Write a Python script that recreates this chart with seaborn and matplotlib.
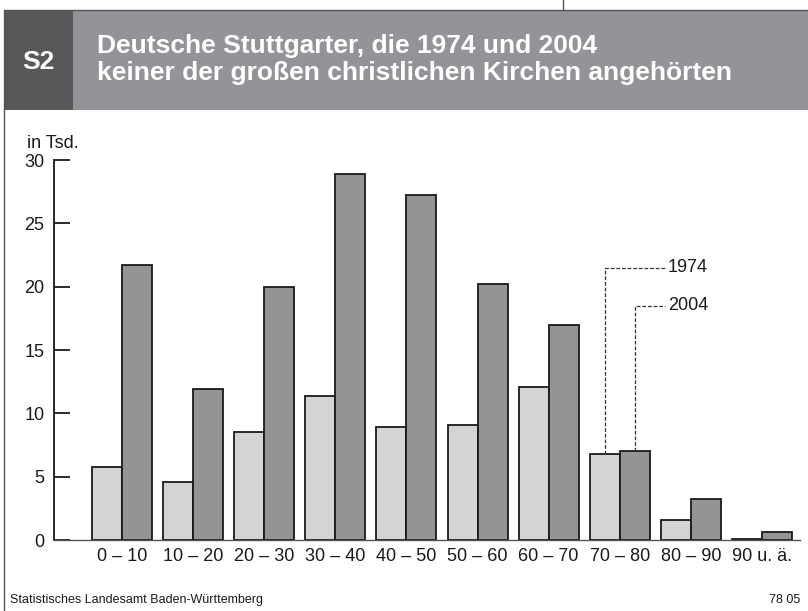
import pandas as pd
import matplotlib.pyplot as plt
import seaborn as sns
from matplotlib.patches import Rectangle
from matplotlib.lines import Line2D

# Altersgruppen und Werte in Tsd.
alter = ['0 – 10', '10 – 20', '20 – 30', '30 – 40', '40 – 50',
         '50 – 60', '60 – 70', '70 – 80', '80 – 90', '90 u. ä.']
werte_1974 = [5.8, 4.6, 8.5, 11.4, 8.9, 9.1, 12.1, 6.8, 1.6, 0.1]
werte_2004 = [21.7, 11.9, 20.0, 28.9, 27.2, 20.2, 17.0, 7.0, 3.2, 0.6]
jahre = ['1974', '2004']
yticks = [0, 5, 10, 15, 20, 25, 30]

light = '#d3d4d6'
dark = '#939498'
header_dark = '#58585a'

df = pd.DataFrame({
    'Alter': alter * 2,
    'Anzahl': werte_1974 + werte_2004,
    'Jahr': [jahre[0]] * len(alter) + [jahre[1]] * len(alter),
})

sns.set_style('white')
plt.rcParams['font.family'] = ['Liberation Sans', 'DejaVu Sans']

fig = plt.figure(figsize=(8.08, 6.11), dpi=100)

# Rahmen und Kopfzeile
fig.add_artist(Line2D([0.005, 1.0], [0.9836, 0.9836], color='#555555', lw=1.0))
fig.add_artist(Line2D([0.005, 0.005], [0.0, 0.9836], color='#555555', lw=1.0))
fig.add_artist(Line2D([0.697, 0.697], [0.9836, 1.0], color='#555555', lw=1.0))
fig.add_artist(Rectangle((0.0055, 0.82), 0.085, 0.162, color=header_dark, lw=0))
fig.add_artist(Rectangle((0.0905, 0.82), 0.91, 0.162, color=dark, lw=0))
fig.text(0.048, 0.898, 'S2', color='white', fontsize=19, fontweight='bold',
         ha='center', va='center')
fig.text(0.12, 0.924, 'Deutsche Stuttgarter, die 1974 und 2004',
         color='white', fontsize=19, fontweight='bold', va='center')
fig.text(0.12, 0.881, 'keiner der großen christlichen Kirchen angehörten',
         color='white', fontsize=19, fontweight='bold', va='center')

ax = fig.add_axes([0.0668, 0.1162, 0.9233, 0.6219])
sns.barplot(data=df, x='Alter', y='Anzahl', hue='Jahr',
            palette={jahre[0]: light, jahre[1]: dark},
            width=0.844, edgecolor='#1a1a1a', linewidth=1.3,
            legend=False, ax=ax)

ax.set_ylim(0, 30)
ax.set_xlim(-0.956, 9.535)
ax.set_yticks(yticks)
ax.set_xlabel('')
ax.set_ylabel('')
for s in ['top', 'right']:
    ax.spines[s].set_visible(False)
ax.spines['left'].set_color('#1a1a1a')
ax.spines['left'].set_linewidth(1.3)
ax.spines['bottom'].set_color('#555555')
ax.spines['bottom'].set_linewidth(1.0)
ax.tick_params(axis='y', left=True, direction='in', length=11.5, width=1.3,
               color='#1a1a1a', labelsize=13, pad=7, labelcolor='#1a1a1a')
ax.tick_params(axis='x', bottom=False, length=0, labelsize=13, pad=6,
               labelcolor='#1a1a1a')
ax.text(-0.036, 1.032, 'in Tsd.', transform=ax.transAxes, fontsize=13,
        color='#1a1a1a', va='baseline', ha='left')

# Legende mit gestrichelten Hinweislinien an der Gruppe 70 - 80
idx = alter.index('70 – 80')
levels = [21.5, 18.5]
x_end = idx + 0.64
for cont, lvl, lab in zip(ax.containers, levels, jahre):
    bar = cont[idx]
    xc = bar.get_x() + bar.get_width() / 2
    ax.plot([xc, xc, x_end], [bar.get_height(), lvl, lvl], ls=(0, (3, 1.5)),
            color='#333333', lw=0.9)
    ax.text(x_end + 0.04, lvl, lab, fontsize=13, va='center', ha='left',
            color='#1a1a1a')

fig.text(0.012, 0.018, 'Statistisches Landesamt Baden-Württemberg',
         fontsize=9, color='#1a1a1a', va='center')
fig.text(0.99, 0.018, '78 05', fontsize=9, color='#1a1a1a', va='center',
         ha='right')

fig.savefig('out.png', dpi=100)
